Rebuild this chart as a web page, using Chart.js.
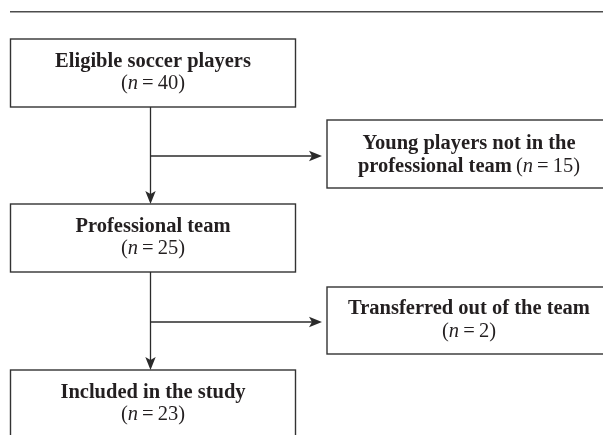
<!DOCTYPE html>
<html><head><meta charset="utf-8">
<script src="https://cdn.jsdelivr.net/npm/chart.js@4/dist/chart.umd.min.js"></script>
<style>html,body{margin:0;padding:0;background:#fff;}canvas{display:block;}</style>
</head><body>
<canvas id="c" width="603" height="435"></canvas>
<script>
// ---- data ----
const stageLabels = ['Eligible soccer players', 'Professional team', 'Included in the study'];
const stageCounts = [40, 25, 23];
const exclusionLabels = ['Young players not in the|professional team', 'Transferred out of the team'];
const exclusionCounts = [15, 2];
const exclusionCountInline = [true, false];

// ---- layout (chart units; x 0..603, y 0..435 top-down) ----
const layout = {
  rule: {x0: 10, x1: 603, y: 11.7},
  stageBox: {x0: 10.5, x1: 295.5, cx: 153},
  stageY: [[39, 107], [204, 272], [370, 445]],
  stageBaseOffset: 27.5,
  exclBox: {x0: 327, x1: 612, cx: 469},
  exclY: [[120, 188], [287, 354]],
  exclBaseOffset: [29, 27],
  trunkX: 150.5,
  branchY: [156, 322],
  branchGap: 5,
  lineGap: 22.5
};

const FONT = '"Liberation Serif", "Times New Roman", serif';
const FS = 20.5;
const INK = '#231f20';

function drawRuns(ctx, runs, cx, baseline) {
  let total = 0;
  runs.forEach(r => { ctx.font = r.font; r.w = ctx.measureText(r.t).width; total += r.w; });
  let x = cx - total / 2;
  runs.forEach(r => { ctx.font = r.font; ctx.fillText(r.t, x, baseline); x += r.w; });
}
function countRuns(n) {
  const reg = `${FS}px ${FONT}`, it = `italic ${FS}px ${FONT}`;
  return [{t: '(', font: reg}, {t: 'n', font: it}, {t: '\u2009=\u2009' + n + ')', font: reg}];
}
function arrow(ctx, x0, y0, x1, y1) {
  const L = 13, H = 5.2, N = 3;
  const dx = x1 - x0, dy = y1 - y0, len = Math.hypot(dx, dy);
  const ux = dx / len, uy = dy / len;
  ctx.beginPath(); ctx.moveTo(x0, y0);
  ctx.lineTo(x1 - ux * (L - N), y1 - uy * (L - N)); ctx.stroke();
  ctx.beginPath();
  ctx.moveTo(x1, y1);
  ctx.lineTo(x1 - ux * L - uy * H, y1 - uy * L + ux * H);
  ctx.lineTo(x1 - ux * (L - N), y1 - uy * (L - N));
  ctx.lineTo(x1 - ux * L + uy * H, y1 - uy * L - ux * H);
  ctx.closePath(); ctx.fill();
}

const flowPlugin = {
  id: 'flow',
  afterDatasetsDraw(chart) {
    const ctx = chart.ctx, xs = chart.scales.x, ys = chart.scales.y;
    const X = v => xs.getPixelForValue(v), Y = v => ys.getPixelForValue(v);
    ctx.save();
    ctx.textBaseline = 'alphabetic';
    // top rule
    ctx.strokeStyle = '#4d4d4d'; ctx.lineWidth = 1.5;
    ctx.beginPath(); ctx.moveTo(X(layout.rule.x0), Y(layout.rule.y)); ctx.lineTo(X(layout.rule.x1), Y(layout.rule.y)); ctx.stroke();

    // stage boxes
    stageLabels.forEach((lab, i) => {
      const [t, b] = layout.stageY[i];
      ctx.strokeStyle = '#333'; ctx.lineWidth = 1.4;
      ctx.strokeRect(X(layout.stageBox.x0), Y(t), X(layout.stageBox.x1) - X(layout.stageBox.x0), Y(b) - Y(t));
      ctx.fillStyle = INK;
      const bl = Y(t + layout.stageBaseOffset);
      drawRuns(ctx, [{t: lab, font: `bold ${FS}px ${FONT}`}], X(layout.stageBox.cx), bl);
      drawRuns(ctx, countRuns(stageCounts[i]), X(layout.stageBox.cx), bl + layout.lineGap);
    });
    // exclusion boxes
    exclusionLabels.forEach((lab, i) => {
      const [t, b] = layout.exclY[i];
      ctx.strokeStyle = '#333'; ctx.lineWidth = 1.4;
      ctx.strokeRect(X(layout.exclBox.x0), Y(t), X(layout.exclBox.x1) - X(layout.exclBox.x0), Y(b) - Y(t));
      ctx.fillStyle = INK;
      const lines = lab.split('|');
      const bl = Y(t + layout.exclBaseOffset[i]);
      lines.forEach((ln, k) => {
        let runs = [{t: ln, font: `bold ${FS}px ${FONT}`}];
        if (exclusionCountInline[i] && k === lines.length - 1) runs = runs.concat([{t: '\u2009', font: `${FS}px ${FONT}`}], countRuns(exclusionCounts[i]));
        drawRuns(ctx, runs, X(layout.exclBox.cx), bl + k * layout.lineGap);
      });
      if (!exclusionCountInline[i]) drawRuns(ctx, countRuns(exclusionCounts[i]), X(layout.exclBox.cx), bl + lines.length * layout.lineGap);
    });
    // arrows
    ctx.strokeStyle = '#2b2b2b'; ctx.fillStyle = '#2b2b2b'; ctx.lineWidth = 1.3;
    for (let i = 0; i < stageLabels.length - 1; i++) {
      const x = X(layout.trunkX);
      arrow(ctx, x, Y(layout.stageY[i][1]), x, Y(layout.stageY[i + 1][0]));
      arrow(ctx, x, Y(layout.branchY[i]), X(layout.exclBox.x0 - layout.branchGap), Y(layout.branchY[i]));
    }
    ctx.restore();
  }
};

new Chart(document.getElementById('c'), {
  type: 'scatter',
  data: {
    datasets: [{
      label: 'stages',
      data: stageCounts.map((n, i) => ({x: layout.stageBox.cx, y: (layout.stageY[i][0] + layout.stageY[i][1]) / 2})),
      pointRadius: 0
    }]
  },
  options: {
    responsive: false, animation: false, devicePixelRatio: 1,
    layout: {padding: 0},
    plugins: {legend: {display: false}, tooltip: {enabled: false}},
    scales: {
      x: {type: 'linear', min: 0, max: 603, display: false},
      y: {type: 'linear', min: 0, max: 435, reverse: true, display: false}
    }
  },
  plugins: [flowPlugin]
});
</script>
</body></html>
